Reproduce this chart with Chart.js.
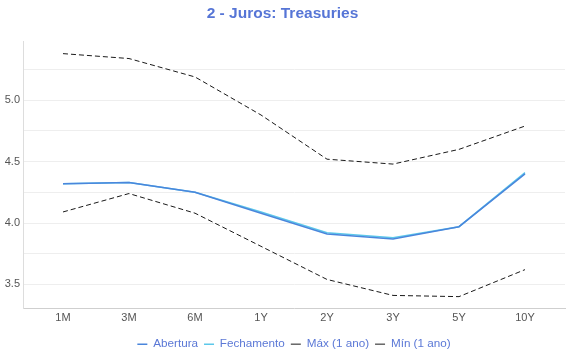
<!DOCTYPE html>
<html lang="pt">
<head>
  <meta charset="UTF-8">
  <title>2 - Juros: Treasuries</title>
  <script src="https://cdn.jsdelivr.net/npm/chart.js"></script>
  <style>
    html, body {
      margin: 0;
      padding: 0;
      background: #fff;
    }
    #wrap {
      width: 570px;
      height: 360px;
    }
  </style>
</head>
<body>
  <div id="wrap"><canvas id="chart" width="570" height="360"></canvas></div>

  <script>
    // maturities on the x axis
    const vencimentos = ['1M', '3M', '6M', '1Y', '2Y', '3Y', '5Y', '10Y'];

    // yields (%)
    const abertura   = [4.32, 4.33, 4.25, 4.08, 3.91, 3.87, 3.97, 4.40];
    const fechamento = [4.32, 4.33, 4.25, 4.09, 3.92, 3.88, 3.97, 4.41];
    const maxAno     = [5.38, 5.34, 5.19, 4.88, 4.52, 4.48, 4.60, 4.79];
    const minAno     = [4.09, 4.24, 4.08, 3.81, 3.54, 3.41, 3.40, 3.62];

    // y grid lines; only the .0/.5 ones get a label
    const yGrid = [3.5, 3.75, 4.0, 4.25, 4.5, 4.75, 5.0, 5.25];

    const toXY = arr => arr.map((v, i) => ({ x: i, y: v }));
    const font = "'Liberation Sans', Arial, Helvetica, sans-serif";

    new Chart(document.getElementById('chart'), {
      type: 'line',
      data: {
        datasets: [
          {
            label: 'Abertura',
            data: toXY(abertura),
            borderColor: '#4a86dc',
            backgroundColor: '#4a86dc',
            borderWidth: 1.5
          },
          {
            label: 'Fechamento',
            data: toXY(fechamento),
            borderColor: '#5cc8ea',
            backgroundColor: '#5cc8ea',
            borderWidth: 1.5
          },
          {
            label: 'Máx (1 ano)',
            data: toXY(maxAno),
            borderColor: '#1a1a1a',
            backgroundColor: '#1a1a1a',
            borderWidth: 1,
            borderDash: [5, 3]
          },
          {
            label: 'Mín (1 ano)',
            data: toXY(minAno),
            borderColor: '#1a1a1a',
            backgroundColor: '#1a1a1a',
            borderWidth: 1,
            borderDash: [5, 3]
          }
        ]
      },
      options: {
        responsive: false,
        animation: false,
        layout: { padding: { left: 0, right: 5, top: 0, bottom: 0 } },
        elements: {
          point: { radius: 0, hoverRadius: 0 },
          line: { tension: 0 }
        },
        plugins: {
          title: {
            display: true,
            text: '2 - Juros: Treasuries',
            color: '#5675d6',
            font: { family: font, size: 15.5, weight: 'bold' },
            padding: { top: 4, bottom: 19 }
          },
          legend: {
            position: 'bottom',
            fullSize: false,
            labels: {
              color: '#5b78d6',
              font: { family: font, size: 11.7 },
              usePointStyle: true,
              pointStyle: 'line',
              pointStyleWidth: 10,
              padding: 6
            }
          },
          tooltip: { enabled: false }
        },
        scales: {
          x: {
            type: 'linear',
            min: -0.606,
            max: 7.606,
            afterBuildTicks: s => { s.ticks = vencimentos.map((_, i) => ({ value: i })); },
            afterFit: s => { s.height = 24; },
            ticks: {
              callback: v => vencimentos[v],
              color: '#555',
              font: { family: font, size: 11 },
              padding: 3,
              maxRotation: 0
            },
            grid: { display: false, drawTicks: false },
            border: { display: true, color: '#cfcfcf' }
          },
          y: {
            min: 3.305,
            max: 5.478,
            afterBuildTicks: s => { s.ticks = yGrid.map(v => ({ value: v })); },
            afterFit: s => { s.width = 23; },
            ticks: {
              callback: v => (Math.round(v * 2) === v * 2 ? v.toFixed(1) : ''),
              color: '#555',
              font: { family: font, size: 11 },
              padding: 3
            },
            grid: { color: '#eeeeee', drawTicks: false },
            border: { display: true, color: '#dddddd' }
          }
        }
      }
    });
  </script>
</body>
</html>
